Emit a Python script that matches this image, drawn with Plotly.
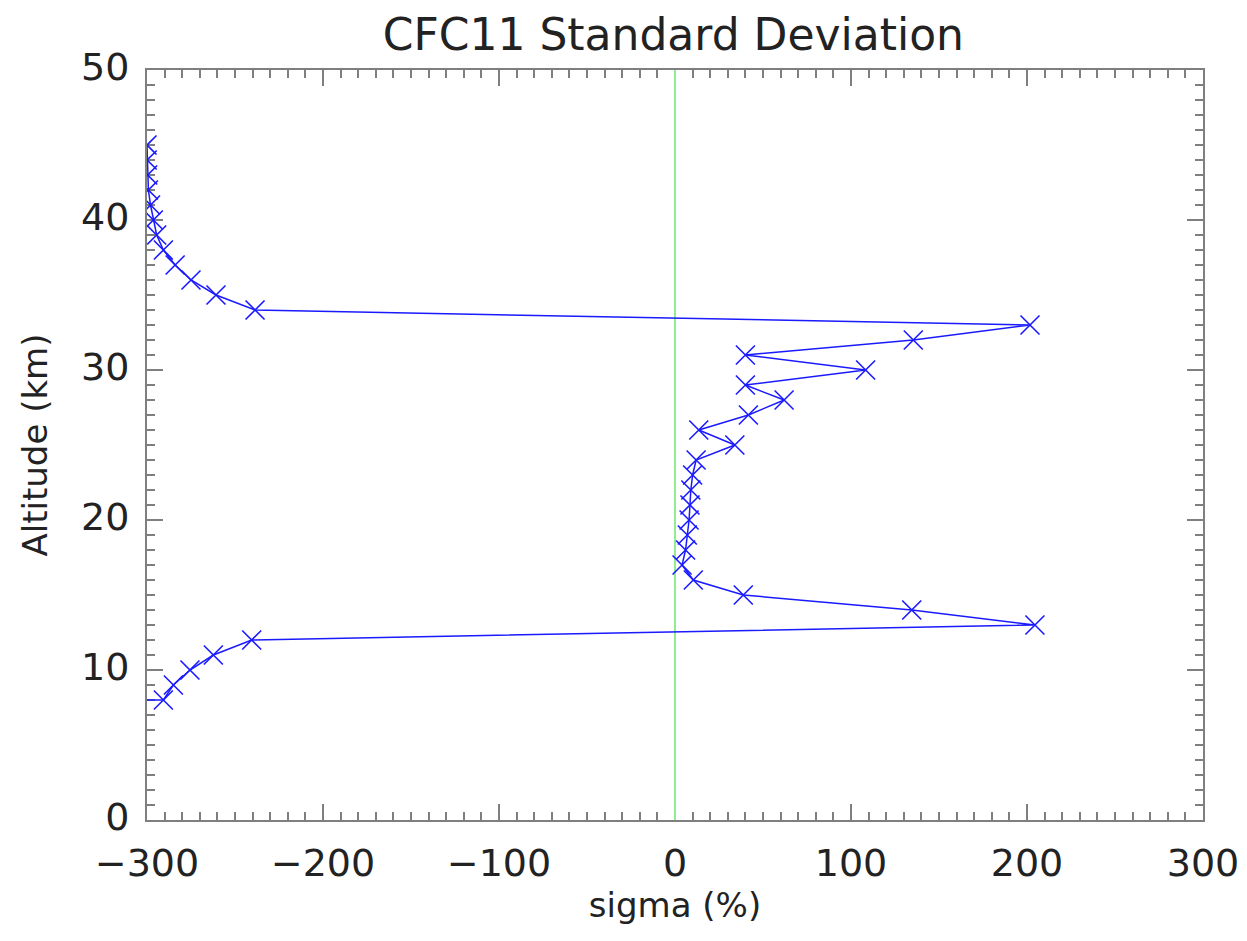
import plotly.graph_objects as go

# Data
altitude_km = [7, 8, 9, 10, 11, 12, 13, 14, 15, 16, 17, 18, 19, 20, 21, 22, 23, 24,
               25, 26, 27, 28, 29, 30, 31, 32, 33, 34, 35, 36, 37, 38, 39, 40, 41,
               42, 43, 44, 45]
sigma_pct = [-3000, -290.7, -285, -275.6, -262.3, -240.5, 204.5, 134.5, 38.8, 10.4,
             4, 6, 7, 8, 8.5, 9, 10, 12, 34, 13.5, 41.7, 62, 40, 108.3, 40, 135.4,
             201.7, -238.6, -260.8, -275, -284, -290.7, -294.5, -296.4, -298,
             -299.2, -299.6, -299.9, -300]

zero_line_x = [0, 0]
zero_line_y = [0, 50]

title_text = "CFC11 Standard Deviation"
x_title = "sigma (%)"
y_title = "Altitude (km)"
x_ticks = [-300, -200, -100, 0, 100, 200, 300]
y_ticks = [0, 10, 20, 30, 40, 50]

FONT = "DejaVu Sans"
AXIS_COLOR = "#7f7f7f"
TEXT_COLOR = "#222222"

fig = go.Figure()
fig.add_trace(go.Scatter(x=zero_line_x, y=zero_line_y, mode="lines",
                         line=dict(color="#90ee90", width=2), showlegend=False,
                         hoverinfo="skip", cliponaxis=False))
fig.add_trace(go.Scatter(x=sigma_pct, y=altitude_km, mode="lines+markers",
                         line=dict(color="#1a1aff", width=1.5),
                         marker=dict(symbol="x-thin", size=19,
                                     line=dict(color="#1a1aff", width=1.6)),
                         showlegend=False))

axis_common = dict(
    showgrid=False, zeroline=False, showline=True, linecolor=AXIS_COLOR,
    linewidth=2, mirror="ticks", ticks="inside", tickcolor=AXIS_COLOR,
    tickwidth=1.5, ticklen=16, automargin=False, layer="below traces",
    tickfont=dict(family=FONT, size=38, color=TEXT_COLOR),
)

fig.update_xaxes(range=[-300, 300], tickmode="array", tickvals=x_ticks,
                 ticklabelstandoff=8,
                 title=dict(text=x_title, font=dict(family=FONT, size=34, color=TEXT_COLOR),
                            standoff=8),
                 minor=dict(ticks="inside", dtick=10, ticklen=8, tickcolor=AXIS_COLOR,
                            tickwidth=1.5, showgrid=False),
                 **axis_common)
fig.update_yaxes(range=[0, 50], tickmode="array", tickvals=y_ticks,
                 ticklabelstandoff=8, ticklabelshift=-3,
                 title=dict(text=y_title, font=dict(family=FONT, size=34, color=TEXT_COLOR),
                            standoff=23),
                 minor=dict(ticks="inside", dtick=1, ticklen=8, tickcolor=AXIS_COLOR,
                            tickwidth=1.5, showgrid=False),
                 **axis_common)

fig.update_layout(
    width=1239, height=933,
    margin=dict(l=139, r=44, t=62, b=121),
    paper_bgcolor="white", plot_bgcolor="white",
    title=dict(text=title_text, x=0.537, xanchor="center", y=0.972, yanchor="middle",
               yref="container", font=dict(family=FONT, size=44, color=TEXT_COLOR),
               automargin=False),
)

fig.write_html("out.html")
